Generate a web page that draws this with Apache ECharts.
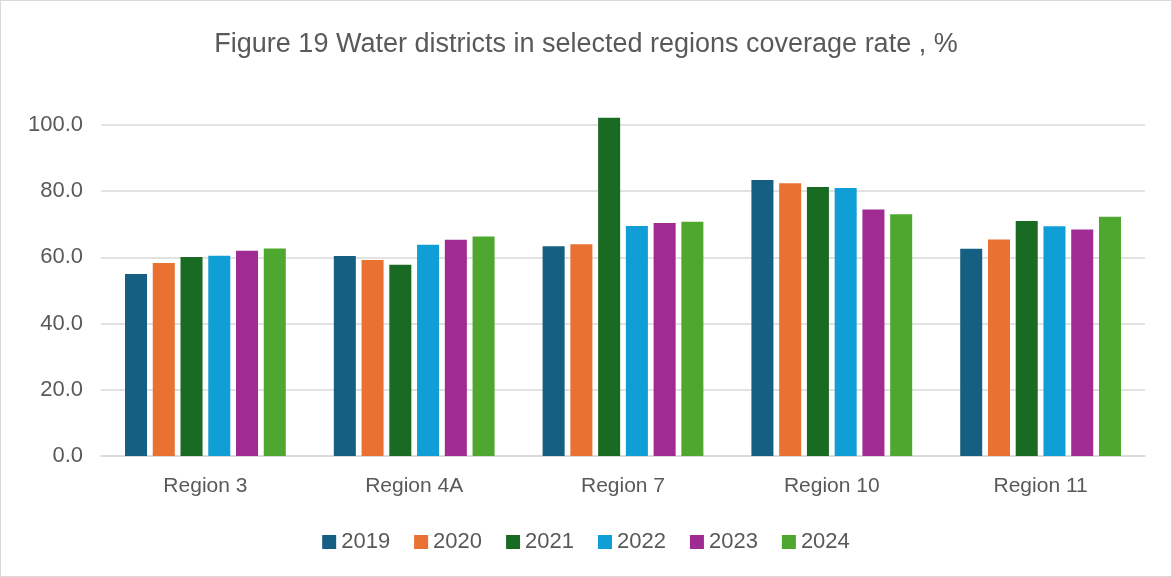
<!DOCTYPE html>
<html><head><meta charset="utf-8">
<script src="https://cdn.jsdelivr.net/npm/echarts@6/dist/echarts.min.js"></script>
<style>html,body{margin:0;padding:0;background:#fff}#c{width:1170px;height:575px;border:1px solid #d9d9d9}</style>
</head><body><div id="c"></div>
<script>
const categories = ['Region 3','Region 4A','Region 7','Region 10','Region 11'];
const years = ['2019','2020','2021','2022','2023','2024'];
const v2019 = [55.0, 60.4, 63.4, 83.4, 62.6];
const v2020 = [58.3, 59.2, 64.0, 82.4, 65.4];
const v2021 = [60.1, 57.8, 102.2, 81.3, 71.0];
const v2022 = [60.5, 63.8, 69.5, 81.0, 69.4];
const v2023 = [62.0, 65.3, 70.4, 74.5, 68.4];
const v2024 = [62.7, 66.3, 70.8, 73.0, 72.3];
const yTicks = [0,20,40,60,80,100];
const colors = ['#156082','#E97132','#196B24','#0F9ED5','#A02B93','#4EA72E'];
const all = [v2019,v2020,v2021,v2022,v2023,v2024];
const font = 'Liberation Sans, Arial, sans-serif';
const chart = echarts.init(document.getElementById('c'));
chart.setOption({
  animation:false,
  title:{text:'Figure 19 Water districts in selected regions coverage rate , %',left:'center',top:25,
    textStyle:{fontFamily:font,fontSize:27,fontWeight:'normal',color:'#595959'}},
  legend:{top:525,left:'center',itemWidth:14,itemHeight:14,itemGap:24,icon:'rect',
    textStyle:{fontFamily:font,fontSize:22,color:'#595959'}},
  grid:{left:100,right:26,top:124,bottom:120,containLabel:false},
  xAxis:{type:'category',data:categories,
    axisLine:{lineStyle:{color:'#d9d9d9',width:1.5}},axisTick:{show:false},
    axisLabel:{fontFamily:font,fontSize:21,color:'#595959',margin:20}},
  yAxis:{type:'value',min:yTicks[0],max:yTicks[yTicks.length-1],interval:20,
    axisLine:{show:false},axisTick:{show:false},
    splitLine:{lineStyle:{color:'#d9d9d9',width:1.5}},
    axisLabel:{fontFamily:font,fontSize:22,color:'#595959',margin:18,formatter:v=>v.toFixed(1)}},
  series: years.map((y,i)=>({name:y,type:'bar',data:all[i],clip:false,
    barGap:'26%',barCategoryGap:'23%',itemStyle:{color:colors[i]}}))
});
</script></body></html>
